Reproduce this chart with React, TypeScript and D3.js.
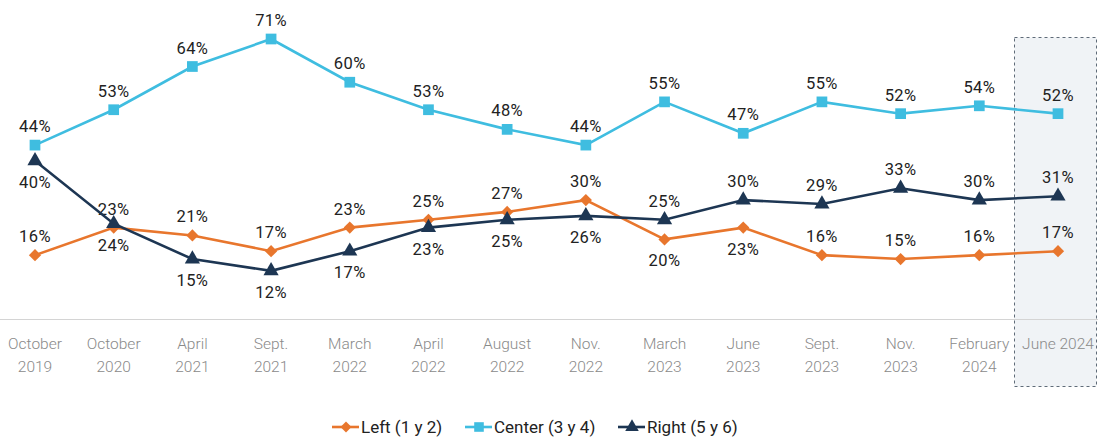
import React, { useEffect, useRef } from "react"
import * as d3 from "d3"

const periods = [
    ["October", "2019"], ["October", "2020"], ["April", "2021"], ["Sept.", "2021"],
    ["March", "2022"], ["April", "2022"], ["August", "2022"], ["Nov.", "2022"],
    ["March", "2023"], ["June", "2023"], ["Sept.", "2023"], ["Nov.", "2023"],
    ["February", "2024"], ["June 2024"],
]
const leftValues = [16, 23, 21, 17, 23, 25, 27, 30, 20, 23, 16, 15, 16, 17]
const centerValues = [44, 53, 64, 71, 60, 53, 48, 44, 55, 47, 55, 52, 54, 52]
const rightValues = [40, 24, 15, 12, 17, 23, 25, 26, 25, 30, 29, 33, 30, 31]
// label side: 1 = above, -1 = below
const leftSide = [1, 1, 1, 1, 1, 1, 1, 1, -1, -1, 1, 1, 1, 1]
const centerSide = leftValues.map(() => 1)
const rightSide = [-1, -1, -1, -1, -1, -1, -1, -1, 1, 1, 1, 1, 1, 1]

const series = [
    { name: "Left (1 y 2)", values: leftValues, side: leftSide, color: "#e8762d", symbol: d3.symbolDiamond2, size: 95 },
    { name: "Center (3 y 4)", values: centerValues, side: centerSide, color: "#3fbde0", symbol: d3.symbolSquare, size: 115 },
    { name: "Right (5 y 6)", values: rightValues, side: rightSide, color: "#1d3653", symbol: d3.symbolTriangle, size: 100 },
]

export default function App() {
    const ref = useRef(null)

    useEffect(() => {
        document.body.style.margin = "0"
        const svg = d3.select(ref.current)
        svg.selectAll("*").remove()
        const width = 1098

        const x = d3.scalePoint()
            .domain(periods.map((p, i) => String(i)))
            .range([35, 1058])
        const y = d3.scaleLinear().domain([0, 71]).range([318, 39])

        // highlighted last period
        svg.append("rect")
            .attr("x", 1014.5).attr("y", 37.5)
            .attr("width", 82).attr("height", 349)
            .attr("fill", "#f0f3f6")
            .attr("stroke", "#5f6b78")
            .attr("stroke-width", 1)
            .attr("stroke-dasharray", "3,3")

        svg.append("line")
            .attr("x1", 0).attr("x2", width)
            .attr("y1", 319.5).attr("y2", 319.5)
            .attr("stroke", "#d4d4d4")
            .attr("stroke-width", 1.2)

        const labels = svg.append("g")
            .attr("font-family", "Roboto, sans-serif")
            .attr("font-weight", 300)
            .attr("font-size", 15.5)
            .attr("fill", "#8a8a8a")
            .attr("text-anchor", "middle")
        periods.forEach((p, i) => {
            const t = labels.append("text").attr("x", x(String(i))).attr("y", 349)
            p.forEach((line, j) => {
                t.append("tspan").attr("x", x(String(i))).attr("dy", j === 0 ? 0 : 23).text(line)
            })
        })

        const line = d3.line()
            .x((d, i) => x(String(i)))
            .y(d => y(d))

        series.forEach(s => {
            svg.append("path")
                .datum(s.values)
                .attr("d", line)
                .attr("fill", "none")
                .attr("stroke", s.color)
                .attr("stroke-width", 2.6)
            svg.append("g")
                .selectAll("path")
                .data(s.values)
                .enter()
                .append("path")
                .attr("d", d3.symbol().type(s.symbol).size(s.size))
                .attr("transform", (d, i) => `translate(${x(String(i))},${y(d)})`)
                .attr("fill", s.color)
            svg.append("g")
                .attr("font-family", "Roboto, sans-serif")
                .attr("font-size", 16.5)
                .attr("letter-spacing", 0.4)
                .attr("fill", "#222")
                .attr("text-anchor", "middle")
                .selectAll("text")
                .data(s.values)
                .enter()
                .append("text")
                .attr("x", (d, i) => x(String(i)))
                .attr("y", (d, i) => y(d) + (s.side[i] > 0 ? -13 : 27))
                .text(d => d + "%")
        })

        const legendX = [332, 465, 618]
        const legend = svg.append("g").attr("transform", "translate(0,427)")
        series.forEach((s, i) => {
            const g = legend.append("g").attr("transform", `translate(${legendX[i]},0)`)
            g.append("line")
                .attr("x1", 0).attr("x2", 27)
                .attr("stroke", s.color).attr("stroke-width", 2.6)
            g.append("path")
                .attr("d", d3.symbol().type(s.symbol).size(s.size * 0.8))
                .attr("transform", "translate(14,0)")
                .attr("fill", s.color)
            g.append("text")
                .attr("x", 29).attr("y", 6)
                .attr("font-family", "Roboto, sans-serif")
                .attr("font-size", 17)
                .attr("fill", "#222")
                .text(s.name)
        })
    }, [])

    return <svg ref={ref} width={1098} height={439} style={{ display: "block" }} />
}
